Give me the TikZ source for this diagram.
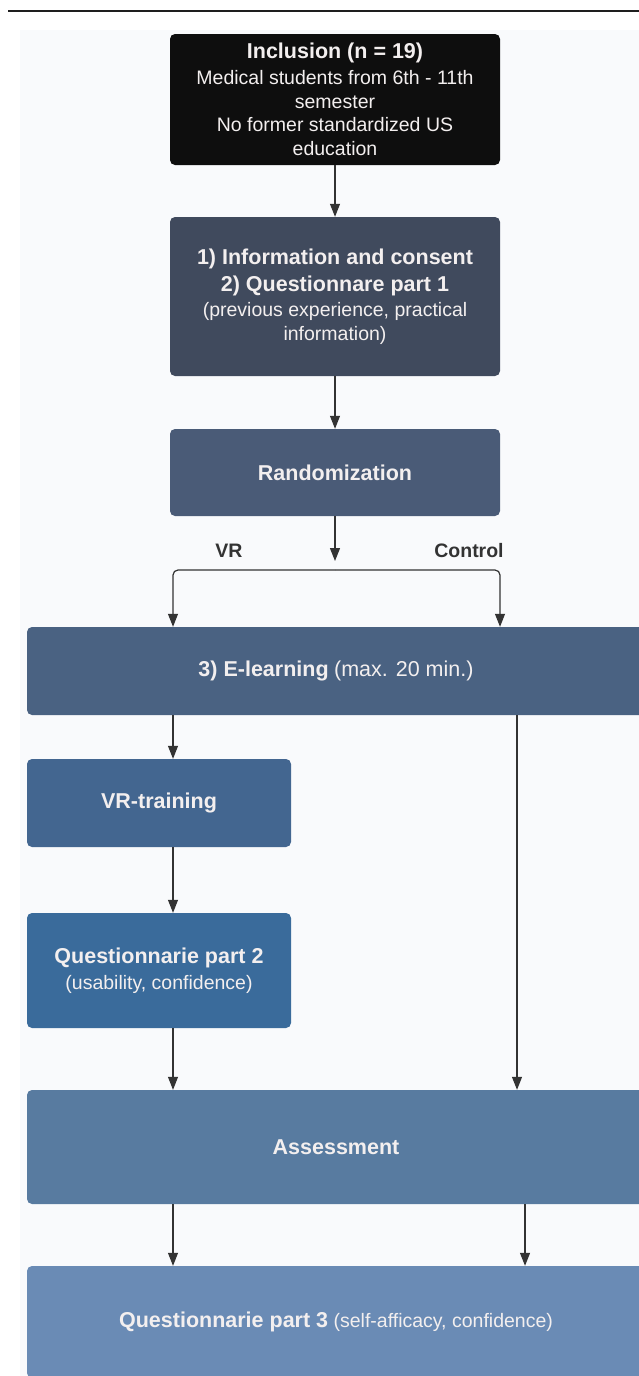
\documentclass[tikz,border=0pt]{standalone}
\usepackage{fontspec}
\setmainfont{Liberation Sans}
\usetikzlibrary{arrows.meta}
\definecolor{cInc}{HTML}{0E0E0E}
\definecolor{cInfo}{HTML}{404A5D}
\definecolor{cRand}{HTML}{4A5B77}
\definecolor{cElearn}{HTML}{4A6282}
\definecolor{cVR}{HTML}{436690}
\definecolor{cQtwo}{HTML}{3A6B9B}
\definecolor{cAssess}{HTML}{587BA0}
\definecolor{cQthree}{HTML}{6A8BB5}
\definecolor{boxtext}{HTML}{F3EFEF}
\definecolor{arrcol}{HTML}{333333}
\definecolor{bgc}{HTML}{F9FAFC}
\definecolor{rulec}{HTML}{1E1E1E}
\definecolor{labc}{HTML}{333333}
\newcommand{\bt}[1]{{\fontsize{21.5}{26}\selectfont\bfseries #1}}
\begin{document}
\begin{tikzpicture}[x=1pt,y=-1pt,
  box/.style={rounded corners=5pt, text=boxtext, align=center, inner sep=0pt,
    font=\fontsize{19.5}{23.5}\selectfont},
  arr/.style={draw=arrcol, line width=1.2pt, -{Triangle[width=10pt,length=13pt]}},
  lab/.style={text=labc, font=\fontsize{19.5}{23}\selectfont\bfseries, inner sep=0pt}]
\useasboundingbox (0,0) rectangle (639,1376);
\clip (0,0) rectangle (639,1376);
\fill[bgc] (20,30) rectangle (639,1376);
\draw[line width=2pt, rulec] (8,11) -- (639,11);

\node[box, fill=cInc, minimum width=330pt, minimum height=131pt] (incl) at (335,99.5)
  {\bt{Inclusion (n = 19)}\\[2.5pt]
   Medical students from 6th - 11th\\ semester\\ No former standardized US\\ education};
\node[box, fill=cInfo, minimum width=330pt, minimum height=159pt] (info) at (335,296.5)
  {\bt{1) Information and consent}\\[3.5pt] \bt{2) Questionnare part 1}\\[1.5pt]
   (previous experience, practical\\ information)};
\node[box, fill=cRand, minimum width=330pt, minimum height=87pt] (rand) at (335,472.5)
  {\bt{Randomization}};
\node[box, fill=cElearn, minimum width=618pt, minimum height=88pt] (elearn) at (336,671)
  {\bt{3) E-learning} {\fontsize{21.5}{26}\selectfont (max. 20 min.)}};
\node[box, fill=cVR, minimum width=264pt, minimum height=88pt] (vrt) at (159,803)
  {\bt{VR-training}};
\node[box, fill=cQtwo, minimum width=264pt, minimum height=115pt] (q2) at (159,970.5)
  {\bt{Questionnarie part 2}\\[2.5pt] (usability, confidence)};
\node[box, fill=cAssess, minimum width=618pt, minimum height=114pt] (assess) at (336,1147)
  {\bt{Assessment}};
\node[box, fill=cQthree, minimum width=618pt, minimum height=112pt] (q3) at (336,1322)
  {\bt{Questionnarie part 3} (self-afficacy, confidence)};

\node[lab] (vrlab) at (229,551) {VR};
\node[lab] (ctlab) at (469,551) {Control};

\coordinate (split) at (335,561);
\coordinate (br) at (335,570);
\coordinate (lx) at (173,0);
\coordinate (rx) at (500,0);
\coordinate (cx) at (517,0);
\coordinate (dx) at (525,0);

\draw[arr] (incl) -- (info);
\draw[arr] (info) -- (rand);
\draw[arr] (rand) -- (split);
\draw[arr, rounded corners=5pt] (br) -| (lx |- elearn.north);
\draw[arr, rounded corners=5pt] (br) -| (rx |- elearn.north);
\draw[arr] (lx |- elearn.south) -- (lx |- vrt.north);
\draw[arr] (lx |- vrt.south) -- (lx |- q2.north);
\draw[arr] (lx |- q2.south) -- (lx |- assess.north);
\draw[arr] (cx |- elearn.south) -- (cx |- assess.north);
\draw[arr] (lx |- assess.south) -- (lx |- q3.north);
\draw[arr] (dx |- assess.south) -- (dx |- q3.north);
\end{tikzpicture}
\end{document}
